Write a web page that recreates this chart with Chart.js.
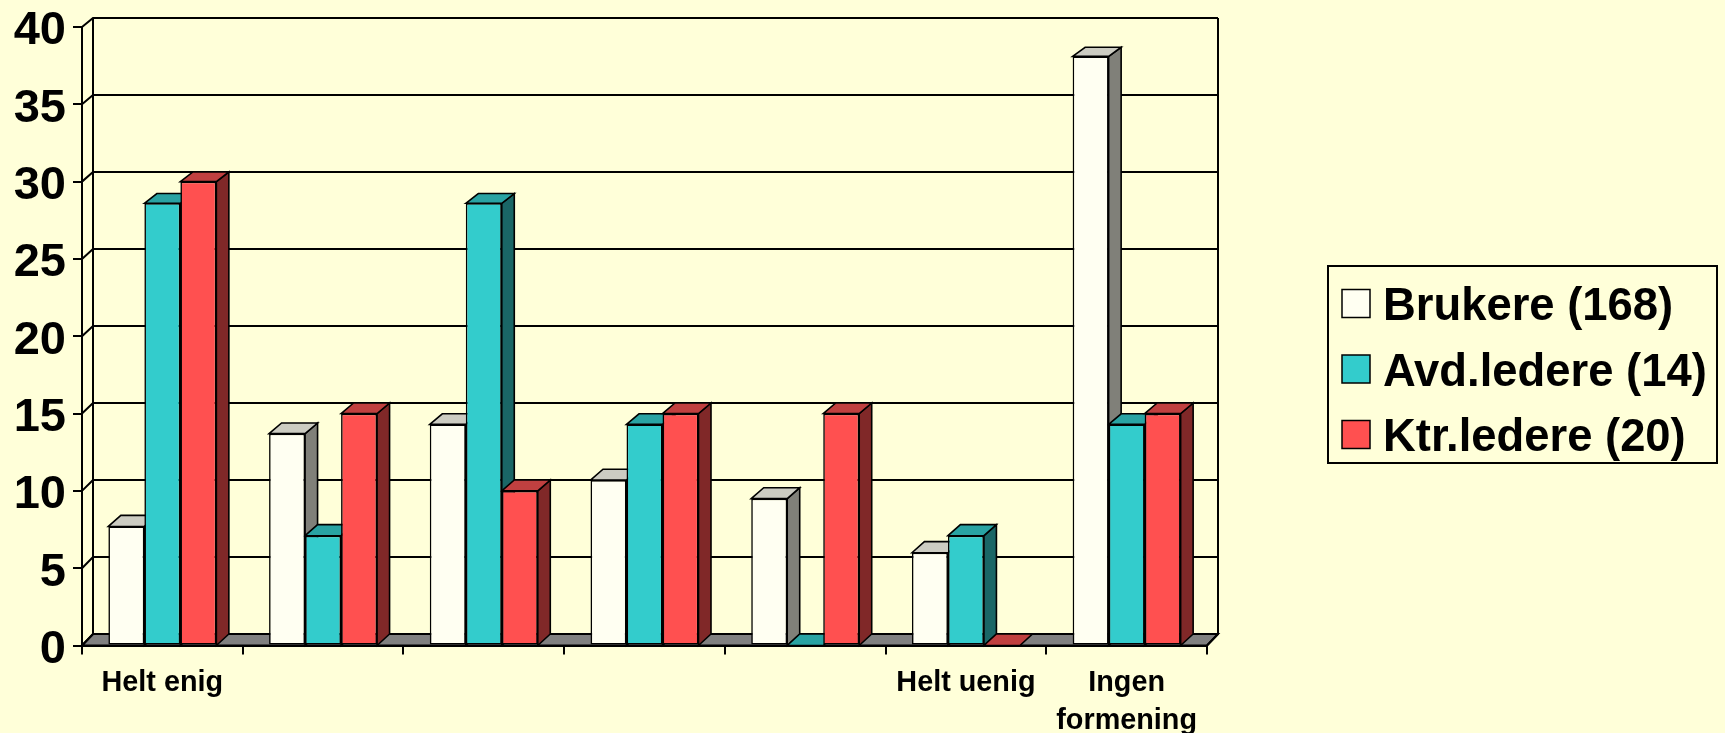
<!DOCTYPE html>
<html>
<head>
<meta charset="utf-8">
<script src="https://cdn.jsdelivr.net/npm/chart.js@4"></script>
<style>
html,body{margin:0;padding:0;background:#FFFFD9;}
canvas{display:block;}
</style>
</head>
<body>
<canvas id="c" width="1725" height="733"></canvas>
<script>
const categories = ["Helt enig", "", "", "", "", "Helt uenig", ["Ingen", "formening"]];
const brukere = [7.7, 13.7, 14.3, 10.7, 9.5, 6, 38.1];
const avdLedere = [28.6, 7.1, 28.6, 14.3, 0, 7.1, 14.3];
const ktrLedere = [30, 15, 10, 15, 15, 0, 15];
const seriesNames = ["Brukere (168)", "Avd.ledere (14)", "Ktr.ledere (20)"];
const frontColors = ["#FFFFF2", "#33CCCC", "#FF5050"];
const topColors = ["#CCCCC2", "#29A3A3", "#C04040"];
const sideColors = ["#808079", "#1A6666", "#802828"];
const FONT = '"Liberation Sans", Arial, sans-serif';

const wallDx = 11;
const barDx = 12.5;
// back plane of the 3D box is a slightly shorter copy of the front plane
const backY = (y, a) => a.bottom - 11.5 - (a.bottom - y) * 0.996;

const box3d = {
  id: 'box3d',
  beforeDatasetsDraw(chart) {
    const {ctx, chartArea: a, scales: {y: ys}} = chart;
    ctx.save();
    ctx.lineWidth = 2;
    ctx.strokeStyle = '#000';
    ctx.lineJoin = 'miter';
    // floor
    const by0 = backY(a.bottom, a);
    ctx.fillStyle = '#808080';
    ctx.beginPath();
    ctx.moveTo(a.left, a.bottom);
    ctx.lineTo(a.left + wallDx, by0);
    ctx.lineTo(a.right + wallDx, by0);
    ctx.lineTo(a.right, a.bottom);
    ctx.closePath();
    ctx.fill();
    ctx.stroke();
    // grid lines on back wall + left wall
    ys.ticks.forEach(t => {
      const y = ys.getPixelForValue(t.value);
      const by = backY(y, a);
      ctx.beginPath();
      ctx.moveTo(a.left, y);
      ctx.lineTo(a.left + wallDx, by);
      ctx.lineTo(a.right + wallDx, by);
      ctx.stroke();
    });
    // back wall verticals
    const byTop = backY(a.top, a);
    ctx.beginPath();
    ctx.moveTo(a.left + wallDx, byTop);
    ctx.lineTo(a.left + wallDx, by0);
    ctx.moveTo(a.right + wallDx, byTop);
    ctx.lineTo(a.right + wallDx, by0);
    ctx.lineTo(a.right, a.bottom);
    ctx.stroke();
    // bar depth, left to right within every category
    for (let i = 0; i < categories.length; i++) {
      chart.data.datasets.forEach((ds, d) => {
        const el = chart.getDatasetMeta(d).data[i];
        const half = el.width / 2;
        const l = el.x - half, r = el.x + half;
        const top = el.y, base = a.bottom;
        const bTop = backY(top, a), bBase = backY(base, a);
        ctx.lineWidth = 1.6;
        if (base - top > 0.5) {
          ctx.fillStyle = sideColors[d];
          ctx.beginPath();
          ctx.moveTo(r, top);
          ctx.lineTo(r + barDx, bTop);
          ctx.lineTo(r + barDx, bBase);
          ctx.lineTo(r, base);
          ctx.closePath();
          ctx.fill();
          ctx.stroke();
        }
        ctx.fillStyle = topColors[d];
        ctx.beginPath();
        ctx.moveTo(l, top);
        ctx.lineTo(l + barDx, bTop);
        ctx.lineTo(r + barDx, bTop);
        ctx.lineTo(r, top);
        ctx.closePath();
        ctx.fill();
        ctx.stroke();
      });
    }
    ctx.restore();
  },
  afterDraw(chart) {
    const {ctx} = chart;
    ctx.save();
    // legend frame
    ctx.lineWidth = 2;
    ctx.strokeStyle = '#000';
    ctx.strokeRect(1328, 266, 389, 197);
    const rows = [289.5, 355, 420.5];
    ctx.font = 'bold 45.4px ' + FONT;
    ctx.textBaseline = 'alphabetic';
    ctx.textAlign = 'left';
    seriesNames.forEach((name, i) => {
      ctx.fillStyle = frontColors[i];
      ctx.fillRect(1342, rows[i], 28, 28);
      ctx.lineWidth = 1.5;
      ctx.strokeRect(1342, rows[i], 28, 28);
      ctx.fillStyle = '#000';
      ctx.fillText(name, 1383, rows[i] + 30.5);
    });
    ctx.restore();
  }
};

new Chart(document.getElementById('c'), {
  type: 'bar',
  data: {
    labels: categories,
    datasets: [brukere, avdLedere, ktrLedere].map((values, i) => ({
      label: seriesNames[i],
      data: values,
      backgroundColor: frontColors[i],
      borderColor: '#000',
      borderWidth: 1.6,
      borderSkipped: false,
      categoryPercentage: 0.672,
      barPercentage: 1
    }))
  },
  options: {
    responsive: false,
    animation: false,
    layout: {padding: {top: 27, right: 518, left: 0, bottom: 0}},
    plugins: {legend: {display: false}, tooltip: {enabled: false}},
    scales: {
      x: {
        afterFit(s) { s.height = 87.5; s.paddingLeft = 0; s.paddingRight = 0; },
        border: {color: '#000', width: 2},
        grid: {offset: true, drawOnChartArea: false, drawTicks: true, tickLength: 9, color: '#000', lineWidth: 2},
        ticks: {
          autoSkip: false, maxRotation: 0, minRotation: 0, color: '#000', padding: 10,
          font: {family: FONT, weight: 'bold', size: 28.8, lineHeight: 1.32}
        }
      },
      y: {
        min: 0, max: 40,
        afterFit(s) { s.width = 82; s.paddingTop = 0; s.paddingBottom = 0; },
        border: {color: '#000', width: 2},
        grid: {drawOnChartArea: false, drawTicks: true, tickLength: 9, color: '#000', lineWidth: 2},
        ticks: {
          stepSize: 5, color: '#000', padding: 7, labelOffset: 4.5,
          font: {family: FONT, weight: 'bold', size: 47}
        }
      }
    }
  },
  plugins: [box3d]
});
</script>
</body>
</html>
